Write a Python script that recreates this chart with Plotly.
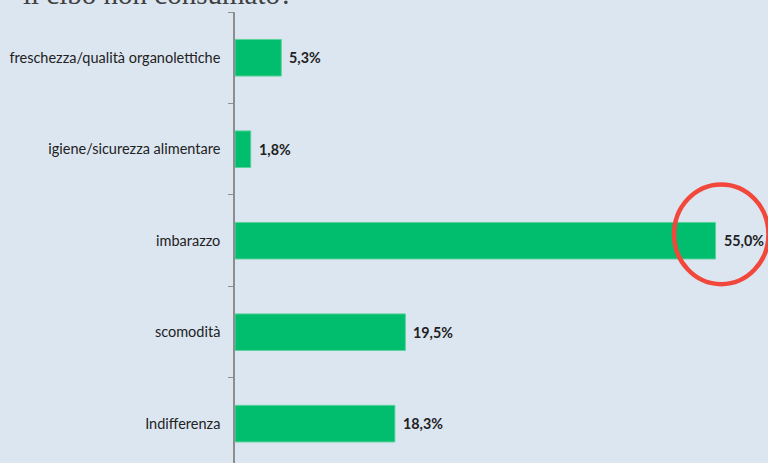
import plotly.graph_objects as go

# Survey answers (top to bottom) and their shares in percent
categories = [
    "freschezza/qualità organolettiche",
    "igiene/sicurezza alimentare",
    "imbarazzo",
    "scomodità",
    "Indifferenza",
]
values = [5.3, 1.8, 55.0, 19.5, 18.3]
title_tail = "il cibo non consumato?"

BG = "#DCE6F1"
GREEN = "#00BE6E"
TEXT = "#222222"


def it_pct(v):
    return f"{v:.1f}".replace(".", ",") + "%"


fig = go.Figure(
    go.Bar(
        x=values,
        y=categories,
        orientation="h",
        marker=dict(color=GREEN, line=dict(color="#5ad39c", width=1)),
        hoverinfo="skip",
    )
)

# Value labels to the right of each bar
for cat, v in zip(categories, values):
    fig.add_annotation(
        x=v, y=cat, xref="x", yref="y",
        text=f"<b>{it_pct(v)}</b>",
        showarrow=False, xanchor="left", xshift=6,
        font=dict(family="Lato", size=14.3, color=TEXT),
    )

# Hand-drawn style red ring around the largest answer's label
imax = values.index(max(values))
cx, rx = values[imax] + 0.65, 5.4
cy, ry = imax - 0.07, 0.545
fig.add_shape(
    type="circle", xref="x", yref="y",
    x0=cx - rx, x1=cx + rx, y0=cy - ry, y1=cy + ry,
    line=dict(color="#F2483C", width=4.5),
    layer="above",
)

# Lower line of the question heading, partly above the page
fig.add_annotation(
    xref="paper", yref="paper",
    x=(21 - 235) / 533, y=1.0,
    xanchor="left", yanchor="bottom",
    text=title_tail, showarrow=False,
    font=dict(family="Liberation Serif", size=29, color="#404040"),
)

fig.update_layout(
    width=768, height=463,
    margin=dict(l=235, r=0, t=12, b=0),
    paper_bgcolor=BG, plot_bgcolor=BG,
    bargap=0.6,
    showlegend=False,
    xaxis=dict(
        range=[0, 61], showgrid=False, zeroline=False,
        showticklabels=False, showline=False, ticks="",
    ),
    yaxis=dict(
        type="category",
        categoryorder="array", categoryarray=categories,
        range=[4.43, -0.5],
        showgrid=False, zeroline=False,
        showline=True, linecolor="#8E8E8E", linewidth=1.5,
        ticks="outside", tickson="boundaries", ticklen=5,
        tickcolor="#8E8E8E", tickwidth=1,
        ticklabelstandoff=10,
        tickfont=dict(family="Lato", size=14.5, color=TEXT),
    ),
)

fig.write_html("out.html")
